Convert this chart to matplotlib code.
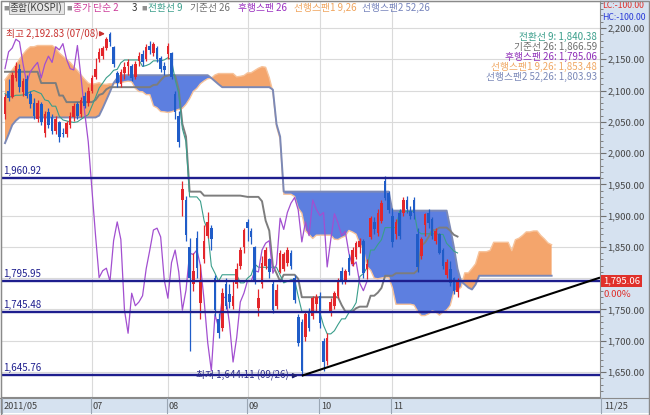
import matplotlib
matplotlib.use("Agg")
import matplotlib.pyplot as plt
from matplotlib.patches import Rectangle
from matplotlib.lines import Line2D
from matplotlib.ticker import MultipleLocator, FuncFormatter
import numpy as np

plt.rcParams['font.family'] = ['Noto Sans CJK KR', 'DejaVu Sans']

# ---------------- data ----------------
dates = ['05/27', '05/30', '05/31',
         '06/01', '06/02', '06/03', '06/07', '06/08', '06/09', '06/10', '06/13', '06/14', '06/15',
         '06/16', '06/17', '06/20', '06/21', '06/22', '06/23', '06/24', '06/27', '06/28', '06/29', '06/30',
         '07/01', '07/04', '07/05', '07/06', '07/07', '07/08', '07/11', '07/12', '07/13', '07/14', '07/15',
         '07/18', '07/19', '07/20', '07/21', '07/22', '07/25', '07/26', '07/27', '07/28', '07/29',
         '08/01', '08/02', '08/03', '08/04', '08/05', '08/08', '08/09', '08/10', '08/11', '08/12',
         '08/16', '08/17', '08/18', '08/19', '08/22', '08/23', '08/24', '08/25', '08/26', '08/29', '08/30', '08/31',
         '09/01', '09/02', '09/05', '09/06', '09/07', '09/08', '09/09', '09/14', '09/15', '09/16',
         '09/19', '09/20', '09/21', '09/22', '09/23', '09/26', '09/27', '09/28', '09/29', '09/30',
         '10/04', '10/05', '10/06', '10/07', '10/10', '10/11', '10/12', '10/13', '10/14', '10/17',
         '10/18', '10/19', '10/20', '10/21', '10/24', '10/25', '10/26', '10/27', '10/28', '10/31',
         '11/01', '11/02', '11/03', '11/04', '11/07', '11/08', '11/09', '11/10', '11/11', '11/14',
         '11/15', '11/16', '11/17', '11/18', '11/21', '11/22', '11/23', '11/24', '11/25']

opens = [2062, 2100, 2090, 2120, 2135, 2098, 2118, 2095, 2080, 2055, 2078, 2032, 2065, 2058, 2035,
         2050, 2032, 2030, 2045, 2058, 2078, 2062, 2092, 2080, 2100, 2122, 2150, 2155, 2168, 2190,
         2170, 2128, 2110, 2128, 2140, 2140, 2122, 2148, 2158, 2150, 2172, 2160, 2168, 2152, 2140,
         2158, 2160, 2095, 2060, 1925, 1925, 1850, 1790, 1865, 1760, 1830, 1868, 1880, 1800, 1735,
         1720, 1790, 1775, 1755, 1790, 1820, 1850, 1890, 1875, 1850, 1752, 1790, 1820, 1830, 1790,
         1755, 1810, 1815, 1825, 1840, 1800, 1738, 1730, 1706, 1745, 1740, 1758, 1772, 1700, 1668,
         1745, 1755, 1772, 1812, 1795, 1832, 1822, 1834, 1850, 1860, 1815, 1866, 1890, 1872, 1892,
         1955, 1936, 1900, 1870, 1905, 1905, 1925, 1908, 1925, 1870, 1836, 1885, 1905, 1895, 1860,
         1870, 1845, 1805, 1815, 1800, 1778]
highs = [2095, 2118, 2130, 2145, 2142, 2120, 2125, 2100, 2088, 2085, 2082, 2068, 2072, 2062, 2060,
         2052, 2040, 2052, 2065, 2080, 2082, 2090, 2098, 2105, 2125, 2152, 2168, 2172, 2186, 2192.83,
         2172, 2132, 2135, 2145, 2150, 2142, 2148, 2162, 2165, 2175, 2180, 2178, 2172, 2155, 2145,
         2176, 2162, 2100, 2068, 1955, 1932, 1865, 1840, 1875, 1822, 1885, 1906, 1885, 1805, 1745,
         1785, 1800, 1790, 1795, 1825, 1850, 1880, 1895, 1880, 1852, 1782, 1835, 1850, 1832, 1795,
         1790, 1845, 1842, 1850, 1845, 1805, 1742, 1735, 1748, 1752, 1772, 1775, 1778, 1705, 1712,
         1768, 1780, 1800, 1818, 1815, 1838, 1850, 1860, 1865, 1863, 1830, 1900, 1898, 1910, 1925,
         1963.75, 1940, 1912, 1895, 1910, 1930, 1932, 1915, 1930, 1880, 1866, 1905, 1911.3, 1898, 1880,
         1872, 1848, 1830, 1828, 1802, 1800]
lows = [2055, 2083, 2088, 2115, 2098, 2092, 2088, 2072, 2055, 2050, 2045, 2025, 2040, 2030, 2030,
        2018, 2025, 2026, 2040, 2052, 2055, 2058, 2072, 2075, 2096, 2118, 2145, 2150, 2165, 2172,
        2138, 2105, 2105, 2118, 2125, 2115, 2118, 2140, 2140, 2148, 2158, 2155, 2145, 2130, 2125,
        2150, 2118, 2055, 2010, 1900, 1860, 1684, 1780, 1800, 1735, 1825, 1865, 1845, 1740, 1705,
        1715, 1750, 1752, 1750, 1785, 1815, 1840, 1860, 1855, 1790, 1740, 1785, 1815, 1800, 1745,
        1750, 1808, 1812, 1820, 1815, 1760, 1692, 1644.11, 1700, 1715, 1735, 1748, 1720, 1652, 1662,
        1740, 1750, 1768, 1790, 1790, 1805, 1820, 1830, 1840, 1800, 1798, 1862, 1870, 1868, 1888,
        1925, 1905, 1850, 1862, 1862, 1900, 1905, 1895, 1895, 1810, 1830, 1868, 1880, 1862, 1855,
        1838, 1815, 1800, 1788, 1775, 1769.43]
closes = [2090, 2088, 2125, 2140, 2105, 2115, 2092, 2078, 2060, 2080, 2050, 2062, 2045, 2035, 2055,
          2025, 2030, 2048, 2060, 2075, 2060, 2085, 2076, 2100, 2120, 2135, 2162, 2168, 2182, 2178,
          2142, 2112, 2130, 2138, 2145, 2120, 2142, 2155, 2145, 2170, 2165, 2175, 2150, 2135, 2133,
          2172, 2121, 2066, 2018, 1943, 1869, 1801, 1812, 1816, 1795, 1860, 1890, 1862, 1749, 1712,
          1776, 1756, 1762, 1772, 1815, 1845, 1877, 1880, 1866, 1797, 1768, 1825, 1845, 1810, 1749,
          1781, 1840, 1838, 1845, 1820, 1765, 1697, 1652, 1742, 1721, 1768, 1770, 1728, 1666, 1705,
          1762, 1776, 1796, 1795, 1812, 1810, 1845, 1856, 1860, 1808, 1822, 1896, 1878, 1905, 1920,
          1929, 1909, 1858, 1890, 1868, 1925, 1910, 1900, 1905, 1818, 1862, 1903, 1888, 1868, 1875,
          1840, 1820, 1826, 1792, 1780, 1795.06]

# 전환선 (9) and 기준선 (26), one value per trading day
tenkan = [2095, 2090, 2090, 2092.5, 2092.5, 2093, 2095, 2098, 2100, 2097.5, 2095, 2085, 2083.5, 2075, 2075,
          2059, 2053, 2051.5, 2050, 2049, 2050, 2054, 2058, 2061.5, 2075, 2089, 2104, 2112, 2120.5, 2125.4,
          2132.4, 2133.9, 2144.4, 2148.9, 2148.9, 2148.9, 2148.9, 2148.9, 2138.5, 2140, 2142.5, 2147.5, 2147.5, 2147.5, 2149,
          2152.5, 2149, 2117.5, 2095, 2039, 2018, 1930, 1930, 1930, 1923, 1892, 1876, 1819.5, 1808, 1795,
          1805.5, 1805.5, 1805.5, 1805.5, 1805.5, 1792.5, 1792.5, 1800, 1805, 1822.5, 1817.5, 1817.5, 1817.5, 1817.5, 1817.5,
          1817.5, 1805, 1792.5, 1795, 1797.5, 1797.5, 1771, 1747, 1747, 1747, 1747, 1747, 1744.5, 1724.5, 1711,
          1711, 1716, 1726, 1735, 1735, 1745, 1751, 1761, 1802.5, 1807.5, 1816.5, 1845, 1845, 1854, 1861.5,
          1880.9, 1880.9, 1880.9, 1880.9, 1906.9, 1906.9, 1906.9, 1906.9, 1906.9, 1875, 1871, 1871, 1871, 1871, 1871,
          1870, 1870, 1855.7, 1849.7, 1843.2, 1840.38]
kijun = [2130, 2130, 2130, 2130, 2130, 2130, 2130, 2130, 2130, 2130, 2112, 2112, 2112, 2112, 2112,
         2092, 2092, 2081.5, 2081.5, 2081.5, 2081.5, 2081.5, 2081.5, 2081.5, 2081.5, 2085, 2093, 2095, 2102, 2105.4,
         2105.4, 2105.4, 2105.4, 2105.4, 2105.4, 2105.4, 2105.4, 2105.4, 2105.4, 2105.4, 2105.4, 2108.9, 2109.4, 2116.4, 2122.4,
         2123.9, 2125.4, 2123.9, 2101.4, 2046.4, 2026.4, 1938.4, 1938.4, 1938.4, 1938.4, 1932, 1932, 1932, 1932, 1932,
         1932, 1932, 1932, 1932, 1932, 1932, 1931, 1930, 1930, 1930, 1930, 1923, 1892, 1876, 1819.5,
         1808, 1795, 1805.5, 1805.5, 1805.5, 1805.5, 1799, 1769.6, 1769.6, 1769.6, 1769.6, 1769.6, 1769.6, 1769.6, 1769.6,
         1769.6, 1769.6, 1769.6, 1757, 1747, 1747, 1747, 1752, 1754.5, 1754.5, 1754.5, 1772, 1772, 1777, 1784.5,
         1803.9, 1803.9, 1803.9, 1807.9, 1807.9, 1807.9, 1807.9, 1807.9, 1807.9, 1812.9, 1851.9, 1856.9, 1865.9, 1876.9, 1876.9,
         1880.9, 1880.9, 1880.9, 1875.9, 1869.4, 1866.59]

# 선행스팬1 / 선행스팬2 (already displaced 26 days ahead: 152 positions)
span_a = [2117, 2125, 2133, 2141, 2150, 2158, 2165, 2170, 2170, 2172, 2172, 2172, 2172, 2172, 2168,
          2160, 2155, 2150, 2145, 2138, 2132, 2125, 2118, 2112, 2110, 2111,
          2112.5, 2110, 2110, 2111, 2111, 2111.5, 2112.5, 2114, 2115, 2114, 2103.5, 2098.5, 2098, 2093.5, 2093.5,
          2075.5, 2072.5, 2066.5, 2066, 2065, 2066, 2068, 2070, 2071.5, 2078, 2087, 2098.5, 2103.5, 2111, 2115.4,
          2118.9, 2119.7, 2124.9, 2127.2, 2127.2, 2127.2, 2127.2, 2127.2, 2122, 2122.7, 2124, 2128.2, 2128.5, 2132, 2135.7,
          2138.2, 2137.2, 2120.7, 2098.2, 2042.7, 2022.2, 1934.2, 1934.2, 1934.2, 1930.7, 1912, 1904, 1875.8, 1870, 1863.5,
          1868.8, 1868.8, 1868.8, 1868.8, 1868.8, 1862.3, 1861.8, 1865, 1867.5, 1876.3, 1873.8, 1870.3, 1854.8, 1846.8, 1818.5,
          1812.8, 1800, 1799, 1800.3, 1801.5, 1801.5, 1785, 1758.3, 1758.3, 1758.3, 1758.3, 1758.3, 1757, 1747, 1740.3,
          1740.3, 1742.8, 1747.8, 1746, 1741, 1746,
          1749, 1756.5, 1778.5, 1781, 1785.5, 1808.5, 1808.5, 1815.5, 1823, 1842.4, 1842.4, 1842.4, 1844.4, 1857.4, 1857.4,
          1857.4, 1857.4, 1857.4, 1844, 1861.5, 1864, 1868.5, 1874, 1874, 1875.5, 1875.5, 1868.3, 1862.8, 1856.3, 1853.48]
span_b = [2016, 2030, 2045, 2052] + [2057] * 22 + \
         [2060, 2072, 2085, 2098, 2112, 2120] + [2124.5] * 25 + [2120, 2115, 2110] + [2105.4] * 14 + \
         [2101.4, 2046.4, 2026.4] + [1938.4] * 30 + [1908] * 16 + \
         [1880, 1850, 1815, 1795, 1790, 1785, 1782, 1790] + [1803.93] * 21

CHIKOU_SHIFT = 25          # 후행스팬 is drawn 25 bars back in this chart

levels = [1960.92, 1795.95, 1745.48, 1645.76]
trend_dates = ['09/26', '11/25']
trend_values = [1644.11, 1726.0]

month_ticks = ['05/27', '07/01', '08/01', '09/01', '10/04', '11/01']
month_labels = ['2011/05', '07', '08', '09', '10', '11']
last_label = '11/25'

# ---------------- colours ----------------
RED = '#e3262b'
BLUE = '#1f5cc8'
ORANGE_FILL = '#f4a56c'
BLUE_FILL = '#5d7fe0'
SA_LINE = '#f7c39b'
SB_LINE = '#7c89b6'
KIJUN_C = '#7d7d7d'
TENKAN_C = '#3a9e8b'
CHIKOU_C = '#a24fd0'
LEVEL_C = '#1e1e8e'
PANEL = '#d6e2f0'

W, H = 650, 415
fig = plt.figure(figsize=(6.5, 4.15), dpi=100)
fig.patch.set_facecolor('white')

def fx(px):
    return px / W

def fy(py):
    return 1 - py / H

# side and bottom panels (behind the axes)
fig.patches.append(Rectangle((fx(600), fy(413)), fx(50), 413 / H, transform=fig.transFigure,
                             facecolor=PANEL, edgecolor='none', zorder=-10))
fig.patches.append(Rectangle((0, fy(413)), 1, 15 / H, transform=fig.transFigure,
                             facecolor=PANEL, edgecolor='none', zorder=-10))
fig.lines.append(Line2D([0, 1], [fy(398), fy(398)], transform=fig.transFigure, color='#8a8a8a', lw=0.8,
                        zorder=-5))
# outer frame
fig.patches.append(Rectangle((0.0008, 0.001), 0.998, 0.997, transform=fig.transFigure,
                             facecolor='none', edgecolor='#8a8a8a', lw=1.0, zorder=10))

ax = fig.add_axes([fx(1), fy(397), fx(599), 396 / H])
ax.set_facecolor('white')

PX_PER_DAY = 3.62
x0 = 5.0
ax.set_xlim((1 - x0) / PX_PER_DAY, (600 - x0) / PX_PER_DAY)
ax.set_ylim(2200 - 369 / 0.6255, 2200 + 27 / 0.6255)

idx = {d: i for i, d in enumerate(dates)}
x = np.arange(len(dates))
o = np.array(opens, float); h = np.array(highs, float)
l = np.array(lows, float); c = np.array(closes, float)

# grid
ax.set_yticks(np.arange(1650, 2201, 50))
ax.yaxis.grid(True, color='#dadada', lw=0.8, zorder=0)
ax.set_axisbelow(True)
for d in month_ticks[1:]:
    ax.axvline(idx[d], color='#dadada', lw=0.8, zorder=0.5)

# cloud
xs = np.arange(len(span_a))
sa = np.array(span_a, float); sb = np.array(span_b, float)
ax.fill_between(xs, sa, sb, where=sa >= sb, interpolate=True, color=ORANGE_FILL, lw=0, zorder=1)
ax.fill_between(xs, sa, sb, where=sa < sb, interpolate=True, color=BLUE_FILL, lw=0, zorder=1)
ax.plot(xs, sa, color=SA_LINE, lw=1.0, zorder=2)
ax.plot(xs, sb, color=SB_LINE, lw=1.4, zorder=2)

# lines
ax.plot(x, kijun, color=KIJUN_C, lw=1.4, zorder=3)
ax.plot(x, tenkan, color=TENKAN_C, lw=0.8, zorder=3)
ax.plot(x[:-CHIKOU_SHIFT], c[CHIKOU_SHIFT:], color=CHIKOU_C, lw=0.9, zorder=4)

# candles
up = c >= o
col = np.where(up, RED, BLUE)
ax.vlines(x, l, h, colors=col, lw=0.9, zorder=5)
ax.bar(x, np.maximum(np.abs(c - o), 1.2), bottom=np.minimum(o, c), width=0.72,
       color=col, lw=0, zorder=6)

# horizontal levels
for v in levels:
    ax.axhline(v, color=LEVEL_C, lw=1.7, zorder=7)
    ax.text(0.004, v + 3, f'{v:,.2f}', transform=ax.get_yaxis_transform(),
            ha='left', va='bottom', fontsize=7, color=LEVEL_C, zorder=9)

# trend line
tx = [idx[d] for d in trend_dates]
slope = (trend_values[1] - trend_values[0]) / (tx[1] - tx[0])
xr = ax.get_xlim()[1]
ax.plot([tx[0], xr], [trend_values[0], trend_values[0] + slope * (xr - tx[0])],
        color='black', lw=1.5, zorder=8, solid_capstyle='butt')

# high / low annotations
i_hi = int(np.argmax(h)); i_lo = int(np.argmin(l))
ax.annotate('', xy=(i_hi - 0.6, h[i_hi] - 2), xytext=(i_hi - 3.1, h[i_hi] - 2),
            arrowprops=dict(arrowstyle='-|>', color='#c8302e', lw=1.0, mutation_scale=7), zorder=9)
ax.text(i_hi - 3.3, h[i_hi] - 3, f'최고 {h[i_hi]:,.2f} ({dates[i_hi]})', ha='right', va='center',
        fontsize=7, color='#c8302e', zorder=9)
ax.annotate('', xy=(i_lo - 0.3, l[i_lo]), xytext=(i_lo - 3.3, l[i_lo]),
            arrowprops=dict(arrowstyle='-|>', color='#202070', lw=1.0, mutation_scale=7), zorder=9)
ax.text(i_lo - 3.5, l[i_lo] + 1, f'최저 {l[i_lo]:,.2f} ({dates[i_lo]})', ha='right', va='center',
        fontsize=7, color='#30308a', zorder=9)

# right axis (the 1,800.00 label sits under the last-price box, as in the reference)
last_price = closes[-1]

def ylab(v, p):
    if abs(v - last_price) < 12:
        return ''
    return f'{v:,.2f}'

ax.yaxis.tick_right()
ax.yaxis.set_major_formatter(FuncFormatter(ylab))
ax.yaxis.set_minor_locator(MultipleLocator(10))
ax.tick_params(axis='y', which='major', length=4, width=0.8, color='#707070', labelsize=6.8,
               labelcolor='#454545', pad=1.5)
ax.tick_params(axis='y', which='minor', length=2, width=0.6, color='#707070')
ax.set_xticks([])
for s in ax.spines.values():
    s.set_color('#8a8a8a'); s.set_linewidth(0.8)

# x labels in bottom strip
for d, lab in zip(month_ticks, month_labels):
    px = x0 + idx[d] * PX_PER_DAY - 1 if d != month_ticks[0] else 2
    fig.lines.append(Line2D([fx(px), fx(px)], [fy(413), fy(398)], transform=fig.transFigure,
                            color='#9aa6b4', lw=0.8))
    fig.text(fx(px + 2), fy(406), lab, ha='left', va='center', fontsize=6.6, color='#404040')
fig.lines.append(Line2D([fx(601), fx(601)], [fy(413), fy(398)], transform=fig.transFigure,
                        color='#9aa6b4', lw=0.8))
fig.text(fx(604), fy(406), last_label, ha='left', va='center', fontsize=6.6, color='#404040')

# header legend
hy = fy(8)
fig.text(fx(3), hy, '■', fontsize=4, color='#909090', va='center')
fig.text(fx(10), hy, '종합(KOSPI)', fontsize=7, color='#404040', va='center',
         bbox=dict(boxstyle='square,pad=0.1', facecolor='#e6e6e6', edgecolor='#9a9a9a', lw=0.6))
fig.text(fx(66), hy, '■', fontsize=4, color='#909090', va='center')
fig.text(fx(73), hy, '종가 단순 2', fontsize=7, color='#cc3d9a', va='center')
fig.text(fx(132), hy, '3', fontsize=7, color='#303030', va='center')
fig.text(fx(141), hy, '■', fontsize=4, color='#909090', va='center')
fig.text(fx(148), hy, '전환선 9', fontsize=7, color=TENKAN_C, va='center')
fig.text(fx(190), hy, '기준선 26', fontsize=7, color='#6e6e6e', va='center')
fig.text(fx(238), hy, '후행스팬 26', fontsize=7, color='#9a2fc0', va='center')
fig.text(fx(294), hy, '선행스팬1 9,26', fontsize=7, color='#f0a45c', va='center')
fig.text(fx(362), hy, '선행스팬2 52,26', fontsize=7, color='#7684bc', va='center')

fig.text(fx(602), fy(6), 'LC:-100.00', fontsize=6.3, color='#e0302a', va='center')
fig.text(fx(602), fy(17), 'HC:-100.00', fontsize=6.3, color='#2a3ad8', va='center')

# right-side info
info = [(f'전환선 9: {tenkan[-1]:,.2f}', TENKAN_C, 37),
        (f'기준선 26: {kijun[-1]:,.2f}', '#6e6e6e', 47),
        (f'후행스팬 26: {closes[-1]:,.2f}', '#8f2fb8', 57),
        (f'선행스팬1 9,26: {span_a[-1]:,.2f}', '#f0a864', 67),
        (f'선행스팬2 52,26: {span_b[-1]:,.2f}', '#7a88b8', 77)]
for t, colr, py in info:
    fig.text(fx(597), fy(py), t, ha='right', va='center', fontsize=7, color=colr, zorder=9)

# last price box
fig.text(fx(603), fy(281), f'{last_price:,.2f}', fontsize=6.8, color='white', va='center', ha='left',
         bbox=dict(boxstyle='square,pad=0.2', facecolor='#e0302a', edgecolor='none'), zorder=10)
fig.text(fx(603), fy(294), '0.00%', fontsize=6.8, color='#e0302a', va='center', ha='left', zorder=10)

fig.savefig('out.png', dpi=100)
